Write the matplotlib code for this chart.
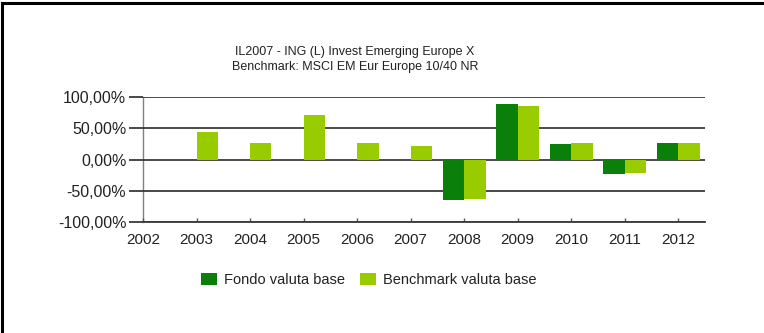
import matplotlib
matplotlib.use("Agg")
import matplotlib.pyplot as plt
import numpy as np
from matplotlib.lines import Line2D
from matplotlib.patches import Patch

years = [2003, 2004, 2005, 2006, 2007, 2008, 2009, 2010, 2011, 2012]
fondo = [None, None, None, None, None, -65.5, 88.5, 24.5, -23.5, 27.0]
benchmark = [44.0, 27.0, 72.0, 27.0, 22.0, -63.0, 86.0, 27.0, -21.0, 27.0]
y_ticks = [-100, -50, 0, 50, 100]
y_tick_labels = ["-100,00%", "-50,00%", "0,00%", "50,00%", "100,00%"]
x_ticks = list(range(2002, 2013))
title_lines = ["IL2007 - ING (L) Invest Emerging Europe X",
               "Benchmark: MSCI EM Eur Europe 10/40 NR"]
legend_labels = ["Fondo valuta base", "Benchmark valuta base"]

col_fondo = "#0a800a"
col_bench = "#99cc00"

plt.rcParams['font.family'] = ['Liberation Sans', 'DejaVu Sans']

W, H = 764, 333
fig = plt.figure(figsize=(W / 100, H / 100), dpi=100)
ax = fig.add_axes([143 / W, 1 - 221.7 / H, (705 - 143) / W, (221.7 - 97.3) / H])

bw = 0.4
fx = [y for y, v in zip(years, fondo) if v is not None]
fv = [v for v in fondo if v is not None]
ax.bar(np.array(fx) - bw / 2, fv, width=bw, color=col_fondo, zorder=3)
ax.bar(np.array(years) + bw / 2, benchmark, width=bw, color=col_bench, zorder=3)

ax.set_xlim(2002, 2012.5)
ax.set_ylim(-100, 100)
ax.set_yticks(y_ticks)
ax.set_yticklabels(y_tick_labels, fontsize=11.5, color="#222222")
ax.set_xticks(x_ticks)
ax.set_xticklabels([str(x) for x in x_ticks], fontsize=11, color="#222222")

ax.yaxis.grid(True, color="#3a3a3a", linewidth=1.3, zorder=2)
ax.tick_params(axis='y', length=10, width=1.3, color="#3a3a3a", pad=2)
ax.tick_params(axis='x', direction='in', length=3, width=1, color="#555555", pad=8)
for s in ["top", "right"]:
    ax.spines[s].set_visible(False)
ax.spines["left"].set_color("#808080")
ax.spines["left"].set_linewidth(1.0)
ax.spines["bottom"].set_color("#3a3a3a")
ax.spines["bottom"].set_linewidth(1.3)
ax.set_axisbelow(False)

fig.text(355 / W, 1 - 52 / H, title_lines[0], ha="center", va="center", fontsize=9, color="#222222")
fig.text(355 / W, 1 - 67 / H, title_lines[1], ha="center", va="center", fontsize=9, color="#222222")

handles = [Patch(facecolor=col_fondo, edgecolor="none"), Patch(facecolor=col_bench, edgecolor="none")]
fig.legend(handles, legend_labels, loc="center", bbox_to_anchor=(369 / W, 1 - 280 / H), ncol=2,
           frameon=False, fontsize=10.5, handlelength=1.1, handleheight=0.8,
           handletextpad=0.5, columnspacing=1.0, labelcolor="#222222")

# outer border (top and left)
fig.add_artist(Line2D([2 / W, 2 / W], [0, 1 - 3 / H], transform=fig.transFigure, color="black", linewidth=2.2))
fig.add_artist(Line2D([2 / W, 1], [1 - 3 / H, 1 - 3 / H], transform=fig.transFigure, color="black", linewidth=2.2))

fig.savefig("out.png", dpi=100, facecolor="white")
